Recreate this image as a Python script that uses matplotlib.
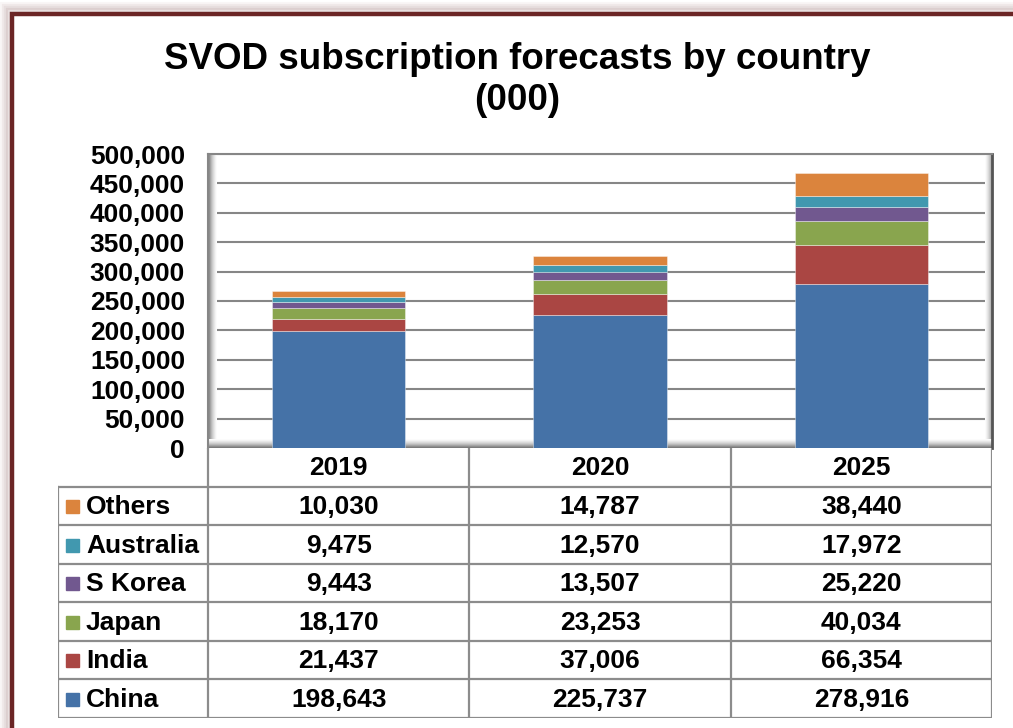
import matplotlib.pyplot as plt
import matplotlib.patches as patches
import numpy as np

plt.rcParams['font.family'] = ['Liberation Sans', 'DejaVu Sans']
plt.rcParams['font.weight'] = 'bold'

# Data (000 subscriptions)
years = ['2019', '2020', '2025']
countries = ['China', 'India', 'Japan', 'S Korea', 'Australia', 'Others']
china = [198643, 225737, 278916]
india = [21437, 37006, 66354]
japan = [18170, 23253, 40034]
s_korea = [9443, 13507, 25220]
australia = [9475, 12570, 17972]
others = [10030, 14787, 38440]
series = [china, india, japan, s_korea, australia, others]
colors = ['#4572A7', '#AA4643', '#89A54E', '#71588F', '#4198AF', '#DB843D']

W, H = 1013, 728
fig = plt.figure(figsize=(W / 100, H / 100), dpi=100)
fig.patch.set_facecolor('white')


def fx(px):
    return px / W


def fy(py):
    return 1 - py / H


# outer frame with a soft shadow
for i, a in enumerate([0.05, 0.08, 0.12, 0.18]):
    off = 8 - 2 * i
    fig.patches.append(patches.Rectangle((fx(10 - off), fy(H + 20)), fx(W + 40), fy(12 - off) - fy(H + 20),
                                         transform=fig.transFigure, fill=False,
                                         edgecolor='#8a5a5a', lw=3, alpha=a))
fig.patches.append(patches.Rectangle((fx(12), fy(H + 20)), fx(W + 40), fy(14) - fy(H + 20),
                                     transform=fig.transFigure, fill=False,
                                     edgecolor='#6B2525', lw=3.2))

fig.text(fx(517), fy(80), 'SVOD subscription forecasts by country\n(000)',
         ha='center', va='center', fontsize=26.5, fontweight='bold', linespacing=1.22)

# main chart
left, right, top, bottom = 208, 992, 154, 448
ax = fig.add_axes([fx(left), fy(bottom), fx(right - left), fy(top) - fy(bottom)])
x = np.arange(len(years))
base = np.zeros(len(years))
for vals, c in zip(series, colors):
    ax.bar(x, vals, width=0.51, bottom=base, color=c, edgecolor=(1, 1, 1, 0.45), lw=0.6, zorder=3)
    base += np.array(vals)

ax.set_xlim(-0.5, 2.5)
ax.set_ylim(0, 500000)
ax.set_yticks(np.arange(0, 500001, 50000))
ax.set_yticklabels([f'{v:,}' for v in range(0, 500001, 50000)], fontsize=19, fontweight='bold')
ax.tick_params(axis='y', length=0, pad=16.5)
ax.set_xticks([])
ax.grid(axis='y', color='#868686', lw=1.5, zorder=1)
for s in ['left', 'top']:
    ax.spines[s].set_color('#868686')
    ax.spines[s].set_linewidth(1.5)
ax.spines['right'].set_color('#555555')
ax.spines['right'].set_linewidth(2)
ax.spines['bottom'].set_visible(False)

# 3D-ish walls
g = np.linspace(0, 1, 50)
ax.imshow(np.tile(g, (2, 1)), cmap='Greys_r', vmin=-0.6, vmax=1, aspect='auto',
          extent=(0, 0.011, 0, 1), transform=ax.transAxes, zorder=2)
ax.imshow(np.tile(g[::-1], (2, 1)), cmap='Greys_r', vmin=-0.8, vmax=1, aspect='auto',
          extent=(0.991, 1, 0, 1), transform=ax.transAxes, zorder=2)
ax.imshow(np.tile(g[::-1], (2, 1)).T, cmap='Greys_r', vmin=-0.6, vmax=1, aspect='auto',
          extent=(0, 1, 0, 0.028), transform=ax.transAxes, zorder=2)

# data table
t_left, t_top, t_bottom = 58, 448, 718
head_bottom = 487
tax = fig.add_axes([fx(t_left), fy(t_bottom), fx(right - t_left), fy(t_top) - fy(t_bottom)])
tax.set_xlim(t_left, right)
tax.set_ylim(t_bottom, t_top)
tax.axis('off')

col_w = (right - left) / len(years)
col_edges = [left + i * col_w for i in range(len(years) + 1)]
row_h = (t_bottom - head_bottom) / len(countries)
line_kw = dict(color='#8c8c8c', lw=1.6, solid_capstyle='projecting')

for xe in col_edges:
    tax.plot([xe, xe], [t_top, t_bottom], **line_kw)
tax.plot([t_left, t_left], [head_bottom, t_bottom], **line_kw)
for r in range(len(countries) + 1):
    yy = head_bottom + r * row_h
    tax.plot([t_left, right], [yy, yy], **line_kw)

for i, yr in enumerate(years):
    tax.text(left + (i + 0.5) * col_w, (t_top + head_bottom) / 2 + 1, yr,
             ha='center', va='center', fontsize=19, fontweight='bold')

for r, (name, vals, c) in enumerate(list(zip(countries, series, colors))[::-1]):
    yc = head_bottom + (r + 0.5) * row_h
    tax.add_patch(patches.Rectangle((66, yc - 6), 13, 13, color=c))
    tax.text(86, yc + 1, name, ha='left', va='center', fontsize=19, fontweight='bold')
    for i, v in enumerate(vals):
        tax.text(left + (i + 0.5) * col_w, yc + 1, f'{v:,}',
                 ha='center', va='center', fontsize=19, fontweight='bold')

fig.savefig('out.png', dpi=100)
